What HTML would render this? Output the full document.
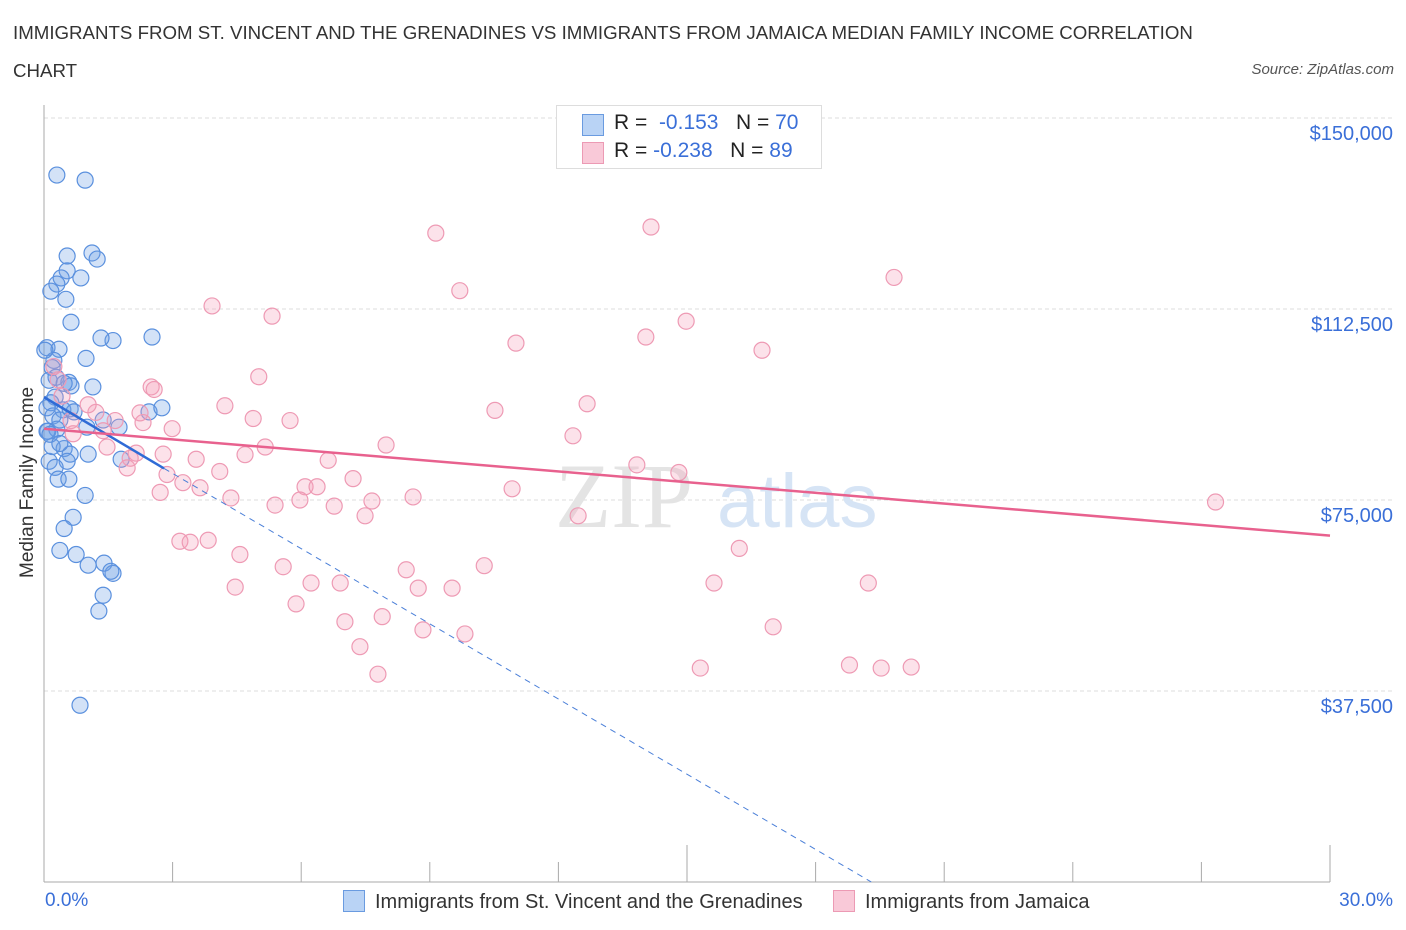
<!DOCTYPE html>
<html><head><meta charset="utf-8">
<style>
body{margin:0;background:#fff;font-family:"Liberation Sans",sans-serif;}
#wrap{position:relative;width:1406px;height:930px;overflow:hidden;}
.t{position:absolute;white-space:nowrap;}
</style></head>
<body>
<div id="wrap">
<div class="t" style="left:13px;top:14px;font-size:18.7px;color:#333;line-height:38px;width:1195px;white-space:normal;">IMMIGRANTS FROM ST. VINCENT AND THE GRENADINES VS IMMIGRANTS FROM JAMAICA MEDIAN FAMILY INCOME CORRELATION CHART</div>
<div class="t" style="right:12px;top:61px;font-size:15px;color:#555;font-style:italic;">Source: ZipAtlas.com</div>
<svg id="svg" width="1406" height="930" style="position:absolute;left:0;top:0"></svg>
</div>
<script>
const xTicks=[0,3,6,9,12,15,18,21,24,27,30];
const yTicks=[37500,75000,112500,150000];
const yTickLabels=["$37,500","$75,000","$112,500","$150,000"];
const blueX=[0.30,0.96,0.54,1.12,1.24,0.54,0.40,0.86,0.30,0.16,0.51,0.63,1.61,1.33,2.52,0.98,0.07,0.35,0.23,0.19,0.12,0.28,0.58,0.63,0.47,1.14,0.26,0.16,0.07,0.44,0.61,0.21,0.37,0.70,1.38,1.00,1.75,2.45,2.75,0.09,0.30,0.47,0.61,1.03,0.54,1.80,0.12,0.26,0.33,0.58,0.96,0.68,0.47,0.37,0.75,1.03,1.40,1.61,1.56,1.38,1.28,0.84,0.07,0.19,0.14,0.37,0.02];
const blueY=[138800,137800,122900,123500,122300,120000,118600,118600,117400,116000,114400,109900,106300,106800,107000,102800,104900,104600,102400,101000,98500,99100,98100,97400,97900,97200,95200,94100,93100,92700,92900,91500,90700,92300,90700,89300,89300,92300,93100,88500,88900,85100,84000,84000,82600,83000,82600,81400,79100,79100,75900,71600,69400,65100,64300,62200,62600,60600,61000,56300,53200,34700,88500,85500,87900,86100,104400];
const pinkX=[9.14,14.16,19.83,9.70,3.92,5.32,14.98,14.04,11.01,16.75,5.01,0.23,0.33,2.50,2.57,4.22,12.67,10.52,1.21,4.88,1.66,2.31,5.74,0.63,2.99,0.68,1.38,12.34,7.98,5.16,1.47,4.69,2.15,2.78,2.01,3.55,13.83,6.63,4.10,2.87,14.81,7.21,1.94,3.24,6.09,6.37,3.64,2.71,10.92,4.36,8.61,7.65,5.97,5.39,6.77,7.49,12.46,27.33,3.17,3.41,3.83,16.22,4.57,10.27,5.58,8.45,19.23,15.63,6.91,6.23,4.46,8.73,9.52,5.88,7.02,7.89,17.01,8.84,9.82,7.37,18.79,19.53,20.23,15.31,7.79,0.42,1.03,2.24];
const pinkY=[127400,128600,118700,116100,113100,111100,110100,107000,105800,104400,99200,101200,98600,97200,96700,93500,93900,92600,92200,91000,90600,90200,90600,90600,89000,88000,88600,87600,85800,85400,85400,83900,84200,84000,83200,83000,81900,82800,80600,80000,80400,79200,81300,78400,77600,77600,77400,76500,77200,75400,75600,74800,75000,74000,73800,71900,71900,74600,66900,66700,67100,65500,64300,62100,61900,61300,58700,58700,58700,58700,57900,57700,57700,54600,51100,52100,50100,49500,48700,46200,42600,42000,42200,42000,40800,95400,93700,92100];
const blueLine=[0,95200,2.8,81200];
const blueDash=[2.8,81200,19.3,0];
const pinkLine=[0,89000,30,68000];
const X0=44,X1=1330,Y0=882;
const sx=v=>X0+(X1-X0)*v/30;
const sy=v=>Y0-v*191/37500;
const svg=document.getElementById('svg');
const NS='http://www.w3.org/2000/svg';
function mk(tag,attrs,parent){const e=document.createElementNS(NS,tag);for(const k in attrs)e.setAttribute(k,attrs[k]);(parent||svg).appendChild(e);return e;}
yTicks.forEach((v,i)=>{
 const g=mk('line',{x1:X0,x2:1395,y1:sy(v),y2:sy(v),stroke:'#ddd','stroke-dasharray':'4,3'});
 
 
 const t=mk('text',{x:1393,y:sy(v)+22,'text-anchor':'end','font-size':20,fill:'#3a6fd8','font-family':'Liberation Sans, sans-serif'});
 t.textContent=yTickLabels[i];
 
 
});
const ya=mk('line',{x1:X0,x2:X0,y1:105,y2:Y0,stroke:'#aaa'});


const xa=mk('line',{x1:X0,x2:1330,y1:Y0,y2:Y0,stroke:'#aaa'});


xTicks.forEach((v,i)=>{
 const big=(i===5||i===10);
 const tk=mk('line',{x1:sx(v),x2:sx(v),y1:big?Y0-37:Y0-20,y2:Y0,stroke:'#aaa'});
 
 
});
const wm=mk('text',{x:555,y:527,'font-size':92,fill:'#e4e4e4','font-family':'Liberation Serif, serif'});wm.textContent='ZIP';


const wm2=mk('text',{x:717,y:527,'font-size':76,fill:'#d6e4f5','font-family':'Liberation Sans, sans-serif'});wm2.textContent='atlas';


blueX.forEach((v,i)=>{
 const c=mk('circle',{cx:sx(v),cy:sy(blueY[i]),r:8,fill:'rgba(110,160,230,0.3)',stroke:'#5a90de','stroke-width':1.2});
 
 
});
pinkX.forEach((v,i)=>{
 const c=mk('circle',{cx:sx(v),cy:sy(pinkY[i]),r:8,fill:'rgba(245,160,185,0.3)',stroke:'#ee9ab4','stroke-width':1.2});
 
 
});
const bd=mk('line',{x1:sx(blueDash[0]),y1:sy(blueDash[1]),x2:sx(blueDash[2]),y2:sy(blueDash[3]),stroke:'#4a7fd8','stroke-width':1,'stroke-dasharray':'6,5'});


const bl=mk('line',{x1:sx(blueLine[0]),y1:sy(blueLine[1]),x2:sx(blueLine[2]),y2:sy(blueLine[3]),stroke:'#2f6bd6','stroke-width':2.5});


const pl=mk('line',{x1:sx(pinkLine[0]),y1:sy(pinkLine[1]),x2:sx(pinkLine[2]),y2:sy(pinkLine[3]),stroke:'#e8618e','stroke-width':2.5});


</script>
<div class="t" style="left:-57px;top:482px;font-size:19px;color:#333;transform:rotate(-90deg);width:170px;text-align:center;">Median Family Income</div>
<div class="t" style="left:45px;top:890px;font-size:19px;color:#3a6fd8;">0.0%</div>
<div class="t" style="right:13px;top:890px;font-size:19px;color:#3a6fd8;">30.0%</div>
<div style="position:absolute;left:556px;top:105px;width:264px;height:62px;border:1px solid #ddd;background:#fff;font-size:21px;">
 <div style="position:absolute;left:25px;top:8px;width:20px;height:20px;background:#b9d3f5;border:1px solid #6a9be0;"></div>
 <div class="t" style="left:57px;top:5px;color:#222;">R = &nbsp;<span style="color:#3a6fd8">-0.153</span>&nbsp;&nbsp;&nbsp;N = <span style="color:#3a6fd8">70</span></div>
 <div style="position:absolute;left:25px;top:36px;width:20px;height:20px;background:#f9c9d8;border:1px solid #ec9ab4;"></div>
 <div class="t" style="left:57px;top:33px;color:#222;">R = <span style="color:#3a6fd8">-0.238</span>&nbsp;&nbsp;&nbsp;N = <span style="color:#3a6fd8">89</span></div>
</div>
<div style="position:absolute;left:343px;top:890px;font-size:20px;color:#333;white-space:nowrap;">
 <span style="display:inline-block;width:20px;height:20px;background:#b9d3f5;border:1px solid #6a9be0;vertical-align:-4px;margin-right:10px;"></span>Immigrants from St. Vincent and the Grenadines</div>
<div style="position:absolute;left:833px;top:890px;font-size:20px;color:#333;white-space:nowrap;">
 <span style="display:inline-block;width:20px;height:20px;background:#f9c9d8;border:1px solid #ec9ab4;vertical-align:-4px;margin-right:10px;"></span>Immigrants from Jamaica</div>
</body></html>
